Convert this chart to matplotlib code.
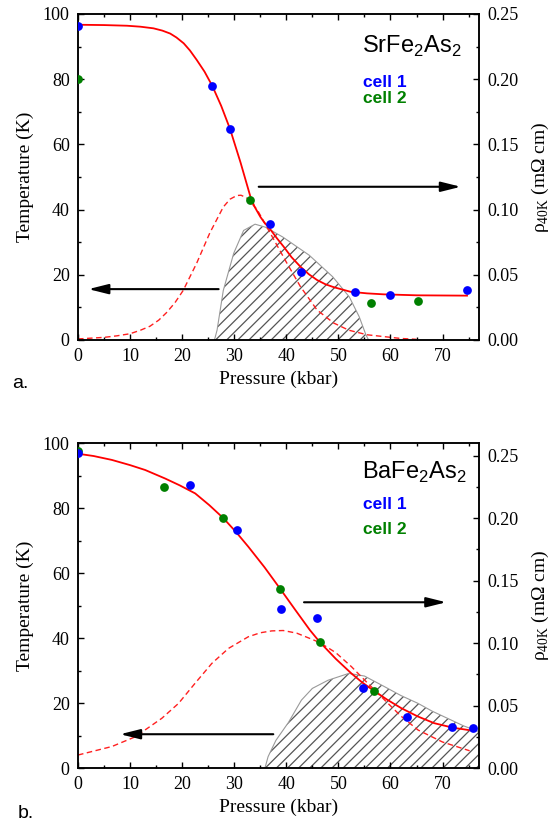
import matplotlib
matplotlib.use("Agg")
import matplotlib.pyplot as plt
from matplotlib.ticker import MultipleLocator, FormatStrFormatter

plt.rcParams['mathtext.fontset'] = 'custom'
plt.rcParams['mathtext.rm'] = 'Liberation Serif'
plt.rcParams['mathtext.sf'] = 'Liberation Sans'
plt.rcParams['hatch.linewidth'] = 0.9
plt.rcParams['font.family'] = ['Liberation Serif', 'DejaVu Sans']

# ---------------- Panel a: SrFe2As2 ----------------
a_cell1_P = [0, 25.8, 29.2, 36.9, 42.9, 53.1, 60.0, 74.7]
a_cell1_T = [96.4, 77.9, 64.7, 35.6, 20.8, 14.7, 13.9, 15.4]
a_cell2_P = [0, 33.1, 56.2, 65.3]
a_cell2_T = [80.0, 42.8, 11.3, 12.1]

a_fit_P = [0, 5, 9.4, 12.0, 14.5, 16.2, 17.7, 18.9, 20.3, 21.5, 22.8, 24.3, 25.8, 27.5, 29.2,
           31.2, 33.1, 33.9, 35.0, 35.8, 36.9, 38.2, 39.5, 41.0, 42.7, 44.3, 45.9, 47.5,
           49.1, 52.3, 55.5, 58.7, 65.1, 74.7]
a_fit_T = [96.7, 96.6, 96.4, 96.1, 95.6, 94.9, 94.0, 92.8, 91.0, 88.8, 85.9, 82.3, 77.9, 71.8, 64.7,
           54.5, 44.0, 40.9, 37.8, 36.0, 34.0, 31.2, 28.6, 25.4, 22.5, 20.2, 18.4, 17.1,
           16.2, 14.8, 14.3, 14.0, 13.7, 13.6]

a_rho_P = [0, 5, 7.5, 10, 12, 13.8, 15.5, 17, 18.6, 20.2, 22.8, 25.3, 27.9, 29.2, 30.5, 31.3,
           32.4, 34.4, 37.6, 40.1, 42.7, 45.9, 49.1, 52.0, 55.5, 61.9, 65]
a_rho = [0.0008, 0.002, 0.0032, 0.0048, 0.0075, 0.0105, 0.0152, 0.021, 0.0285, 0.038, 0.059,
         0.082, 0.102, 0.108, 0.1108, 0.111, 0.109, 0.100, 0.077, 0.059, 0.041, 0.023, 0.013,
         0.0075, 0.004, 0.0012, 0.0005]

a_sc_P = [26.2, 26.7, 27.9, 29.9, 31.8, 34.0, 36.0, 39.3, 44.4, 48.9, 52.1, 54.0, 55.3, 55.8]
a_sc = [0.0, 0.0075, 0.038, 0.0665, 0.084, 0.0888, 0.0865, 0.079, 0.065, 0.0485, 0.033,
        0.0178, 0.0038, 0.0]

# ---------------- Panel b: BaFe2As2 ----------------
b_cell1_P = [0, 21.5, 30.6, 38.9, 45.8, 54.7, 63.2, 71.9, 75.8]
b_cell1_T = [97.0, 87.1, 73.3, 48.9, 46.2, 24.7, 15.8, 12.7, 12.4]
b_cell2_P = [0, 16.6, 27.9, 38.8, 46.4, 56.8]
b_cell2_T = [97.6, 86.5, 76.9, 55.2, 38.8, 23.8]

b_fit_P = [0, 3, 6.5, 10, 12.9, 16.7, 19.5, 22.5, 25.2, 27.9, 30.3, 32.7, 35.8, 38.8, 41.7,
           44.5, 46.4, 49.5, 52.5, 54.6, 56.8, 59.4, 62.1, 65.2, 68.4, 72, 75.8]
b_fit_T = [96.7, 96.0, 94.8, 93.2, 91.7, 89.1, 87.0, 84.5, 80.9, 76.9, 72.7, 68.1, 61.8, 55.2,
           48.7, 42.5, 38.8, 33.6, 29.1, 26.3, 23.8, 21.0, 18.4, 15.9, 13.8, 12.4, 11.5]

b_rho_P = [0, 6.5, 11, 16.1, 19.3, 22.5, 25.7, 28.9, 32.7, 35, 37.2, 39.4, 42, 44.5, 46.4,
           49.5, 52.5, 55.5, 58.9, 62, 65.3, 70, 75.2]
b_rho = [0.0104, 0.0172, 0.025, 0.0398, 0.0517, 0.0679, 0.0837, 0.0957, 0.105, 0.1082,
         0.1097, 0.11, 0.1079, 0.1037, 0.1004, 0.0923, 0.0811, 0.0684, 0.0543, 0.0416,
         0.0304, 0.0208, 0.0138]

b_sc_P = [35.9, 36.5, 38, 40.4, 42.9, 45, 48, 52, 55, 58.9, 62, 65.3, 68, 71.6, 74, 77]
b_sc = [0.0, 0.0091, 0.0221, 0.0364, 0.0543, 0.0637, 0.0702, 0.0757, 0.0736, 0.065,
        0.058, 0.0517, 0.0455, 0.0385, 0.0338, 0.0291]

x_ticks = [0, 10, 20, 30, 40, 50, 60, 70]

fig = plt.figure(figsize=(5.56, 8.23), dpi=100)

panels = [
    dict(rect=[0.1403, 0.5869, 0.7212, 0.3961], rmax=0.25,
         c1=(a_cell1_P, a_cell1_T), c2=(a_cell2_P, a_cell2_T),
         fit=(a_fit_P, a_fit_T), rho=(a_rho_P, a_rho), sc=(a_sc_P, a_sc),
         name='SrFe$_\\mathsf{2}$As$_\\mathsf{2}$', tpos=(0.88, 0.776, 0.727),
         larrow=((27.0, 15.6), (2.0, 15.6)), rarrow=((34.7, 47.0), (73.5, 47.0))),
    dict(rect=[0.1403, 0.0668, 0.7212, 0.3949], rmax=0.26,
         c1=(b_cell1_P, b_cell1_T), c2=(b_cell2_P, b_cell2_T),
         fit=(b_fit_P, b_fit_T), rho=(b_rho_P, b_rho), sc=(b_sc_P, b_sc),
         name='BaFe$_\\mathsf{2}$As$_\\mathsf{2}$', tpos=(0.889, 0.797, 0.72),
         larrow=((37.5, 10.4), (8.1, 10.4)), rarrow=((43.4, 51.0), (70.7, 51.0))),
]

for p in panels:
    ax = fig.add_axes(p['rect'])
    ax2 = ax.twinx()
    ax.set_zorder(2)
    ax2.set_zorder(1)
    ax.patch.set_visible(False)

    # right-axis data: superconducting region and resistivity
    scP, scR = p['sc']
    ax2.fill_between(scP, 0, scR, facecolor='none', edgecolor='#555555',
                     hatch='///', linewidth=0)
    ax2.plot(scP, scR, color='#9a9a9a', lw=0.8)
    rP, rR = p['rho']
    ax2.plot(rP, rR, color='#ff2020', lw=1.0, ls=(0, (4, 2.5)))

    # left-axis data
    fP, fT = p['fit']
    ax.plot(fP, fT, color='#ff0000', lw=1.3, zorder=3)
    ax.plot(*p['c1'], 'o', color='#0000ff', ms=6.3, mec='none', zorder=4)
    ax.plot(*p['c2'], 'o', color='#008000', ms=6.3, mec='none', zorder=3.5)

    # arrows
    for (start, end) in (p['larrow'], p['rarrow']):
        ax.annotate('', xy=end, xytext=start,
                    arrowprops=dict(arrowstyle='-|>,head_length=1.2,head_width=0.3',
                                    color='black', lw=1.5, shrinkA=0, shrinkB=0))

    ax.set_xlim(0, 77)
    ax.set_ylim(0, 100)
    ax2.set_ylim(0, p['rmax'])
    ax.set_xticks(x_ticks)
    ax.xaxis.set_minor_locator(MultipleLocator(5))
    ax.yaxis.set_major_locator(MultipleLocator(20))
    ax.yaxis.set_minor_locator(MultipleLocator(10))
    ax2.yaxis.set_major_locator(MultipleLocator(0.05))
    ax2.yaxis.set_minor_locator(MultipleLocator(0.025))
    ax2.yaxis.set_major_formatter(FormatStrFormatter('%.2f'))

    ax.tick_params(which='both', direction='in', top=True, right=False,
                   labelsize=13, pad=6, width=1.0)
    ax.tick_params(which='major', length=4.5)
    ax.tick_params(which='minor', length=2.5)
    ax2.tick_params(which='both', direction='in', labelsize=13, pad=6, width=1.0)
    ax2.tick_params(which='major', length=4.5)
    ax2.tick_params(which='minor', length=2.5)
    for s in ax.spines.values():
        s.set_linewidth(1.1)
    for s in ax2.spines.values():
        s.set_linewidth(1.1)

    ax.set_xlabel('Pressure (kbar)', fontsize=14, labelpad=4)
    ax.set_ylabel('Temperature (K)', fontsize=14, labelpad=6)
    ax2.set_ylabel('ρ$_\\mathrm{40K}$ (mΩ cm)', fontsize=14, labelpad=8)

    ty0, ty1, ty2 = p['tpos']
    ax.text(0.708, ty0, p['name'], transform=ax.transAxes, fontsize=17,
            family=['Liberation Sans'], va='baseline', zorder=5)
    ax.text(0.71, ty1, 'cell 1', transform=ax.transAxes, fontsize=12.5,
            family=['Liberation Sans'], weight='bold', color='#0000ff', va='baseline')
    ax.text(0.71, ty2, 'cell 2', transform=ax.transAxes, fontsize=12.5,
            family=['Liberation Sans'], weight='bold', color='#008000', va='baseline')

fig.text(0.022, 1 - 383.5 / 823, 'a.', fontsize=14, family=['Liberation Sans'], va='center')
fig.text(0.031, 1 - 813 / 823, 'b.', fontsize=14, family=['Liberation Sans'], va='center')

fig.savefig('out.png', dpi=100)
